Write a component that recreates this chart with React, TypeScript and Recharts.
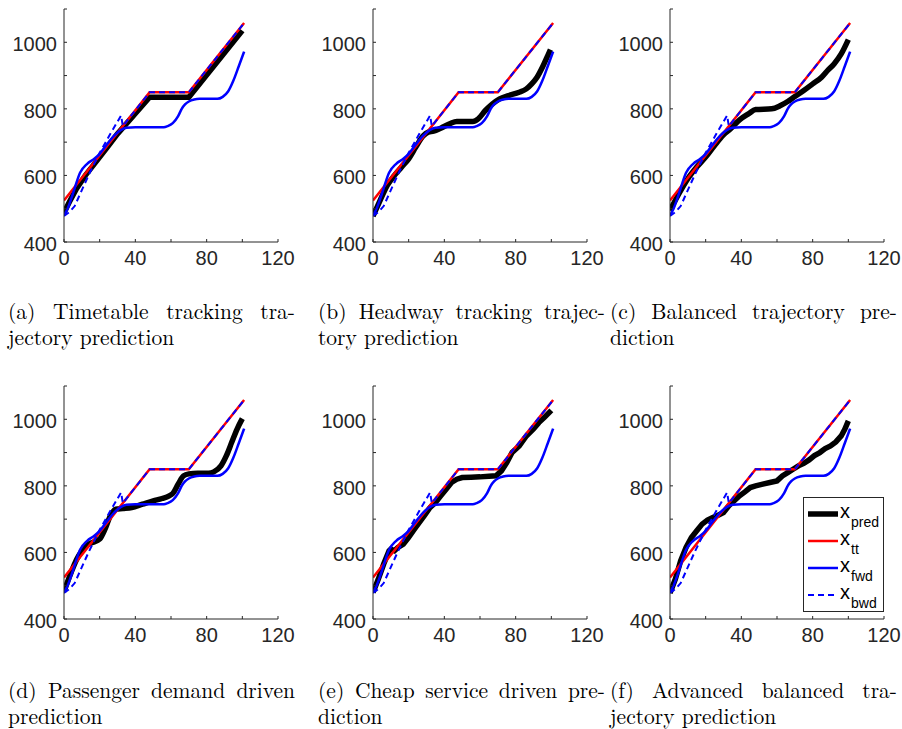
import React from "react";
import { LineChart, Line, XAxis, YAxis, Legend } from "recharts";

const xTicks = [0, 20, 40, 60, 80, 100, 120];
const yTicks = [400, 500, 600, 700, 800, 900, 1000, 1100];

// timetable trajectory (same in every panel)
const xtt = [
  { x: 0, y: 525 },
  { x: 48, y: 850 },
  { x: 70, y: 850 },
  { x: 101, y: 1058 },
];

// backward trajectory
const xbwd = [
  { x: 0, y: 478 },
  { x: 3, y: 490 },
  { x: 6, y: 508 },
  { x: 10, y: 556 },
  { x: 14, y: 603 },
  { x: 20, y: 668 },
  { x: 26, y: 725 },
  { x: 32, y: 780 },
  { x: 33, y: 748 },
  { x: 48, y: 850 },
  { x: 70, y: 850 },
  { x: 101, y: 1058 },
];

// forward trajectory
const xfwd = [
  { x: 0, y: 480 },
  { x: 2, y: 500 },
  { x: 5, y: 545 },
  { x: 9, y: 608 },
  { x: 13, y: 635 },
  { x: 17, y: 650 },
  { x: 20, y: 665 },
  { x: 24, y: 693 },
  { x: 28, y: 719 },
  { x: 32, y: 737 },
  { x: 35, y: 743 },
  { x: 40, y: 745 },
  { x: 56, y: 745 },
  { x: 58, y: 748 },
  { x: 61, y: 757 },
  { x: 64, y: 778 },
  { x: 66, y: 800 },
  { x: 68, y: 814 },
  { x: 70, y: 822 },
  { x: 73, y: 828 },
  { x: 76, y: 830 },
  { x: 86, y: 830 },
  { x: 89, y: 836 },
  { x: 92, y: 852 },
  { x: 95, y: 885 },
  { x: 98, y: 928 },
  { x: 101, y: 972 },
];

const predA = [
  { x: 0, y: 488 }, { x: 3, y: 520 }, { x: 7, y: 560 }, { x: 12, y: 600 },
  { x: 20, y: 655 }, { x: 25, y: 690 }, { x: 30, y: 725 }, { x: 48, y: 835 },
  { x: 70, y: 835 }, { x: 100, y: 1035 },
];

const predB = [
  { x: 0, y: 478 }, { x: 4, y: 525 }, { x: 8, y: 570 }, { x: 12, y: 600 },
  { x: 16, y: 625 }, { x: 20, y: 650 }, { x: 24, y: 685 }, { x: 28, y: 718 },
  { x: 31, y: 730 }, { x: 34, y: 733 }, { x: 38, y: 742 }, { x: 43, y: 755 },
  { x: 47, y: 762 }, { x: 56, y: 762 }, { x: 59, y: 770 }, { x: 63, y: 795 },
  { x: 67, y: 815 }, { x: 71, y: 830 }, { x: 76, y: 840 }, { x: 82, y: 850 },
  { x: 86, y: 860 }, { x: 89, y: 875 }, { x: 92, y: 895 }, { x: 95, y: 925 },
  { x: 98, y: 960 }, { x: 99.5, y: 978 },
];

const predC = [
  { x: 0, y: 495 }, { x: 5, y: 545 }, { x: 10, y: 590 }, { x: 15, y: 625 },
  { x: 20, y: 655 }, { x: 25, y: 690 }, { x: 30, y: 722 }, { x: 34, y: 740 },
  { x: 39, y: 767 }, { x: 44, y: 785 }, { x: 48, y: 798 }, { x: 57, y: 800 },
  { x: 62, y: 810 }, { x: 66, y: 822 }, { x: 70, y: 837 }, { x: 75, y: 855 },
  { x: 80, y: 875 }, { x: 85, y: 895 }, { x: 88, y: 913 }, { x: 92, y: 935 },
  { x: 96, y: 965 }, { x: 100, y: 1008 },
];

const predD = [
  { x: 0, y: 483 }, { x: 4, y: 540 }, { x: 7, y: 578 }, { x: 10, y: 605 },
  { x: 13, y: 622 }, { x: 16, y: 630 }, { x: 20, y: 640 }, { x: 23, y: 670 },
  { x: 26, y: 710 }, { x: 29, y: 730 }, { x: 33, y: 732 }, { x: 38, y: 735 },
  { x: 44, y: 745 }, { x: 50, y: 755 }, { x: 55, y: 762 }, { x: 59, y: 770 },
  { x: 61, y: 777 }, { x: 64, y: 805 }, { x: 67, y: 830 }, { x: 70, y: 836 },
  { x: 75, y: 838 }, { x: 81, y: 838 }, { x: 84, y: 842 }, { x: 88, y: 860 },
  { x: 91, y: 890 }, { x: 94, y: 930 }, { x: 97, y: 970 }, { x: 100, y: 1002 },
];

const predE = [
  { x: 0, y: 480 }, { x: 3, y: 520 }, { x: 6, y: 565 }, { x: 9, y: 605 },
  { x: 10, y: 610 }, { x: 12, y: 605 }, { x: 14, y: 615 }, { x: 17, y: 625 },
  { x: 20, y: 645 }, { x: 23, y: 668 }, { x: 26, y: 690 }, { x: 29, y: 712 },
  { x: 32, y: 735 }, { x: 35, y: 750 }, { x: 38, y: 770 }, { x: 41, y: 790 },
  { x: 44, y: 810 }, { x: 47, y: 820 }, { x: 50, y: 825 }, { x: 55, y: 826 },
  { x: 60, y: 827 }, { x: 65, y: 829 }, { x: 69, y: 830 }, { x: 72, y: 845 },
  { x: 75, y: 870 }, { x: 78, y: 900 }, { x: 82, y: 920 }, { x: 86, y: 950 },
  { x: 90, y: 971 }, { x: 93, y: 990 }, { x: 96, y: 1005 }, { x: 100, y: 1027 },
];

const predF = [
  { x: 0, y: 478 }, { x: 3, y: 520 }, { x: 6, y: 575 }, { x: 9, y: 615 },
  { x: 12, y: 645 }, { x: 15, y: 665 }, { x: 18, y: 685 }, { x: 21, y: 697 },
  { x: 24, y: 705 }, { x: 27, y: 712 }, { x: 30, y: 720 }, { x: 33, y: 740 },
  { x: 36, y: 755 }, { x: 39, y: 770 }, { x: 42, y: 782 }, { x: 45, y: 795 },
  { x: 48, y: 800 }, { x: 52, y: 805 }, { x: 56, y: 810 }, { x: 60, y: 815 },
  { x: 63, y: 830 }, { x: 66, y: 840 }, { x: 69, y: 850 }, { x: 72, y: 860 },
  { x: 75, y: 868 }, { x: 78, y: 878 }, { x: 81, y: 891 }, { x: 84, y: 900 },
  { x: 87, y: 912 }, { x: 90, y: 920 }, { x: 93, y: 932 }, { x: 96, y: 950 },
  { x: 98, y: 970 }, { x: 100, y: 995 },
];

const captions = [
  ["(a) Timetable tracking tra-", "jectory prediction"],
  ["(b) Headway tracking trajec-", "tory prediction"],
  ["(c) Balanced trajectory pre-", "diction"],
  ["(d) Passenger demand driven", "prediction"],
  ["(e) Cheap service driven pre-", "diction"],
  ["(f) Advanced balanced tra-", "jectory prediction"],
];

const legendItems = [
  { sub: "pred", color: "#000000", width: 5.5, dash: "" },
  { sub: "tt", color: "#ff0000", width: 2.5, dash: "" },
  { sub: "fwd", color: "#0000ff", width: 2.5, dash: "" },
  { sub: "bwd", color: "#0000ff", width: 2, dash: "6 4" },
];

const AXIS = "#262626";
const SANS = "'Liberation Sans', Arial, Helvetica, sans-serif";
const SERIF = "'Latin Modern Roman', 'CMU Serif', 'Liberation Serif', 'Times New Roman', serif";

const XTick = (props: any) => {
  const { x, y, payload } = props;
  return (
    <g>
      <line x1={x} x2={x} y1={y} y2={y - 3} stroke={AXIS} strokeWidth={1} />
      {payload.value % 40 === 0 && (
        <text x={x} y={y} dy={23} textAnchor="middle" fill={AXIS} fontSize={20} fontFamily={SANS}>
          {payload.value}
        </text>
      )}
    </g>
  );
};

const YTick = (props: any) => {
  const { x, y, payload } = props;
  return (
    <g>
      <line x1={x} x2={x + 3} y1={y} y2={y} stroke={AXIS} strokeWidth={1} />
      {payload.value % 200 === 0 && (
        <text x={x - 7} y={y} dy={9} textAnchor="end" fill={AXIS} fontSize={20} fontFamily={SANS}>
          {payload.value}
        </text>
      )}
    </g>
  );
};

const LegendBox = () => (
  <svg width={81} height={115} style={{ display: "block" }}>
    <rect x={0.5} y={0.5} width={80} height={114} fill="#fff" stroke={AXIS} strokeWidth={1} />
    {legendItems.map((it, i) => {
      const ly = 17 + i * 27;
      return (
        <g key={it.sub}>
          <line x1={5} x2={35} y1={ly} y2={ly} stroke={it.color} strokeWidth={it.width} strokeDasharray={it.dash || undefined} />
          <text x={37} y={ly + 4} fill="#000" fontSize={20} fontFamily={SANS}>x</text>
          <text x={48} y={ly + 13} fill="#000" fontSize={14} fontFamily={SANS}>{it.sub}</text>
        </g>
      );
    })}
  </svg>
);

type PanelProps = {
  pred: { x: number; y: number }[];
  left: number;
  top: number;
  axisX: number;
  smooth: boolean;
  legend?: boolean;
};

const CHART_W = 312;

function Panel({ pred, left, top, axisX, smooth, legend }: PanelProps) {
  const plotW = 214;
  return (
    <div style={{ position: "absolute", left, top }}>
      <LineChart
        width={CHART_W}
        height={290}
        margin={{ top: 9, right: CHART_W - axisX - plotW, left: axisX - 60, bottom: 9 }}
      >
        <XAxis
          type="number"
          dataKey="x"
          domain={[0, 120]}
          ticks={xTicks}
          interval={0}
          tickSize={0}
          tickMargin={0}
          tick={<XTick />}
          axisLine={{ stroke: AXIS, strokeWidth: 1 }}
          height={39}
          allowDataOverflow
        />
        <YAxis
          type="number"
          dataKey="y"
          domain={[400, 1100]}
          ticks={yTicks}
          interval={0}
          tickSize={0}
          tickMargin={0}
          tick={<YTick />}
          axisLine={{ stroke: AXIS, strokeWidth: 1 }}
          width={60}
          allowDataOverflow
        />
        <Line
          data={pred}
          dataKey="y"
          type={smooth ? "monotone" : "linear"}
          stroke="#000000"
          strokeWidth={5.5}
          dot={false}
          isAnimationActive={false}
        />
        <Line data={xtt} dataKey="y" type="linear" stroke="#ff0000" strokeWidth={2.5} dot={false} isAnimationActive={false} />
        <Line data={xfwd} dataKey="y" type="monotone" stroke="#0000ff" strokeWidth={2.5} dot={false} isAnimationActive={false} />
        <Line
          data={xbwd}
          dataKey="y"
          type="linear"
          stroke="#0000ff"
          strokeWidth={2}
          strokeDasharray="6 4"
          dot={false}
          isAnimationActive={false}
        />
        {legend && (
          <Legend
            layout="vertical"
            align="center"
            verticalAlign="middle"
            content={<LegendBox />}
            wrapperStyle={{ position: "absolute", left: 203, top: 120, width: 81, height: 115 }}
          />
        )}
      </LineChart>
    </div>
  );
}

const Caption = ({ lines, left, top }: { lines: string[]; left: number; top: number }) => (
  <div
    style={{
      position: "absolute",
      left,
      top,
      width: 287,
      fontFamily: SERIF,
      fontSize: 21.5,
      lineHeight: "26px",
      color: "#000",
    }}
  >
    <div style={{ textAlign: "justify", textAlignLast: "justify", height: 26 }}>{lines[0]}</div>
    <div style={{ height: 26 }}>{lines[1]}</div>
  </div>
);

const colX = [8, 318, 610];

export default function App() {
  const preds = [predA, predB, predC, predD, predE, predF];
  const axisXs = [64, 373, 670];
  return (
    <div style={{ position: "absolute", left: 0, top: 0, width: 902, height: 729, background: "#fff", overflow: "hidden" }}>
      {preds.map((p, i) => {
        const col = i % 3;
        const row = Math.floor(i / 3);
        return (
          <Panel
            key={i}
            pred={p}
            left={col * 300}
            top={row * 377}
            axisX={axisXs[col] - col * 300}
            smooth={i > 0 && i < 4}
            legend={i === 5}
          />
        );
      })}
      {captions.map((c, i) => (
        <Caption key={i} lines={c} left={colX[i % 3]} top={i < 3 ? 297 : 676} />
      ))}
    </div>
  );
}
